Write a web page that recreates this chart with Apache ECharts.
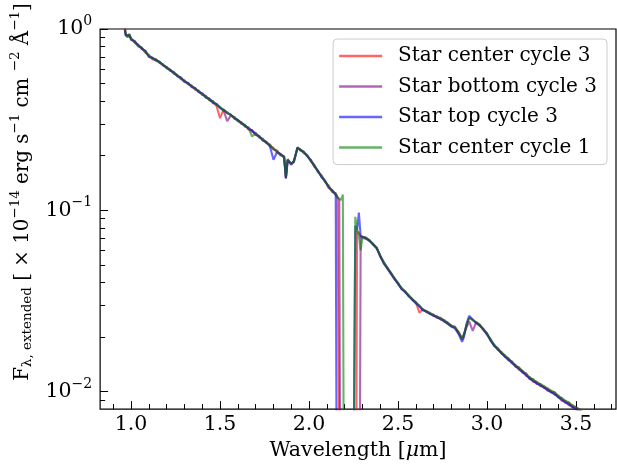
<!DOCTYPE html>
<html>
<head>
<meta charset="utf-8">
<script src="https://cdn.jsdelivr.net/npm/echarts@6/dist/echarts.min.js"></script>
<style>
  html, body { margin: 0; padding: 0; background: #ffffff; }
  #chart { width: 617px; height: 466px; }
</style>
</head>
<body>
<div id="chart"></div>
<script>
// Flux that falls below the plotted floor (detector gap between the two bands)
const NF = 1e-4;

// Wavelength grid in micron
const wavelength = [
  0.965, 0.97, 0.98, 0.99, 1.00, 1.02, 1.04, 1.06, 1.08, 1.10,
  1.12, 1.14, 1.16, 1.18, 1.20, 1.22, 1.24, 1.26, 1.28, 1.30,
  1.32, 1.34, 1.36, 1.38, 1.40, 1.42, 1.44, 1.46, 1.48, 1.50,
  1.52, 1.54, 1.56, 1.58, 1.60, 1.62, 1.64, 1.66, 1.68, 1.70,
  1.72, 1.74, 1.76, 1.78, 1.80, 1.82, 1.84, 1.86, 1.87, 1.88,
  1.90, 1.915, 1.935, 1.95, 1.97, 1.99, 2.01, 2.03, 2.05, 2.07,
  2.09, 2.11, 2.13, 2.15, 2.16, 2.17, 2.18, 2.19, 2.20, 2.21,
  2.22, 2.23, 2.24, 2.25, 2.26, 2.27, 2.28, 2.29, 2.30, 2.32,
  2.34, 2.36, 2.38, 2.40, 2.42, 2.44, 2.46, 2.48, 2.50, 2.52,
  2.54, 2.56, 2.58, 2.60, 2.62, 2.64, 2.66, 2.68, 2.70, 2.72,
  2.74, 2.76, 2.78, 2.80, 2.82, 2.84, 2.86, 2.87, 2.885, 2.90,
  2.92, 2.94, 2.96, 2.98, 3.00, 3.02, 3.04, 3.06, 3.08, 3.10,
  3.12, 3.14, 3.16, 3.18, 3.20, 3.22, 3.24, 3.26, 3.28, 3.30,
  3.32, 3.34, 3.36, 3.38, 3.40, 3.42, 3.44, 3.46, 3.48, 3.50,
  3.52, 3.54, 3.56, 3.58
];

// Flux, units of 1e-14 erg s^-1 cm^-2 A^-1
const centerCycle3 = [
  1.01, 0.94, 0.90, 0.94, 0.87, 0.86, 0.80, 0.79, 0.74, 0.72,
  0.68, 0.68, 0.65, 0.638, 0.605, 0.598, 0.566, 0.557, 0.528, 0.52,
  0.495, 0.488, 0.462, 0.457, 0.432, 0.428, 0.404, 0.40, 0.376, 0.322,
  0.36, 0.343, 0.338, 0.32, 0.316, 0.30, 0.296, 0.279, 0.277, 0.26,
  0.257, 0.242, 0.239, 0.225, 0.221, 0.208, 0.205, 0.195, 0.152, 0.192,
  0.178, 0.188, 0.219, 0.218, 0.207, 0.202, 0.186, 0.178, 0.162, 0.156,
  0.143, 0.137, 0.126, 0.124, 0.118, 0.117, NF, NF, NF, NF,
  NF, NF, NF, NF, NF, 0.077, 0.075, 0.0722, 0.0712, 0.0705,
  0.0675, 0.0655, 0.0615, 0.0565, 0.051, 0.0485, 0.0447, 0.0423, 0.0392, 0.0373,
  0.0352, 0.034, 0.032, 0.0312, 0.0272, 0.0285, 0.0274, 0.0272, 0.0261, 0.026,
  0.025, 0.0248, 0.0236, 0.0232, 0.0224, 0.0214, 0.0193, 0.0203, 0.0234, 0.0255,
  0.025, 0.0238, 0.0234, 0.0218, 0.021, 0.0191, 0.0182, 0.017, 0.0166, 0.0155,
  0.0153, 0.0143, 0.014, 0.0132, 0.013, 0.0122, 0.012, 0.0113, 0.0113, 0.0107,
  0.0107, 0.0101, 0.0101, 0.0096, 0.0095, 0.0089, 0.0089, 0.0084, 0.0084, 0.0079,
  0.008, 0.0074, 0.0075, 0.0071
];

const bottomCycle3 = [
  0.99, 0.92, 0.92, 0.92, 0.89, 0.84, 0.82, 0.775, 0.76, 0.70,
  0.695, 0.668, 0.66, 0.628, 0.618, 0.588, 0.578, 0.548, 0.54, 0.51,
  0.505, 0.478, 0.473, 0.448, 0.442, 0.418, 0.412, 0.39, 0.386, 0.366,
  0.355, 0.31, 0.333, 0.327, 0.311, 0.306, 0.29, 0.286, 0.271, 0.267,
  0.252, 0.248, 0.235, 0.23, 0.217, 0.213, 0.201, 0.199, 0.15, 0.188,
  0.182, 0.184, 0.223, 0.214, 0.211, 0.198, 0.19, 0.174, 0.166, 0.152,
  0.146, 0.133, 0.129, 0.121, 0.12, 0.114, NF, NF, NF, NF,
  NF, NF, NF, NF, NF, NF, NF, 0.0712, 0.072, 0.0695,
  0.0685, 0.0645, 0.0625, 0.0555, 0.0518, 0.0476, 0.0454, 0.0416, 0.0398, 0.0367,
  0.0358, 0.0335, 0.0325, 0.0307, 0.0299, 0.028, 0.0279, 0.0267, 0.0266, 0.0255,
  0.0255, 0.0243, 0.024, 0.0228, 0.0228, 0.021, 0.0197, 0.0207, 0.0226, 0.0244,
  0.0216, 0.0242, 0.023, 0.0222, 0.0206, 0.0195, 0.0178, 0.0174, 0.0162, 0.0159,
  0.0149, 0.0147, 0.0137, 0.0136, 0.0127, 0.0126, 0.0117, 0.0117, 0.011, 0.011,
  0.0105, 0.0104, 0.0099, 0.0099, 0.0093, 0.0092, 0.0087, 0.0087, 0.0082, 0.0082,
  0.0078, 0.0077, 0.0073, 0.0073
];

const topCycle3 = [
  1.00, 0.92, 0.91, 0.925, 0.875, 0.855, 0.815, 0.78, 0.755, 0.705,
  0.692, 0.672, 0.66, 0.63, 0.616, 0.59, 0.577, 0.55, 0.539, 0.513,
  0.503, 0.481, 0.472, 0.45, 0.44, 0.42, 0.412, 0.393, 0.386, 0.368,
  0.359, 0.344, 0.337, 0.322, 0.315, 0.301, 0.295, 0.281, 0.276, 0.262,
  0.256, 0.243, 0.238, 0.226, 0.19, 0.209, 0.204, 0.196, 0.15, 0.189,
  0.179, 0.187, 0.222, 0.215, 0.21, 0.199, 0.189, 0.175, 0.165, 0.153,
  0.145, 0.134, 0.129, 0.122, NF, NF, NF, NF, NF, NF,
  NF, NF, NF, NF, 0.082, 0.078, 0.097, 0.0718, 0.0714, 0.0702,
  0.0678, 0.0648, 0.0618, 0.0558, 0.0508, 0.0478, 0.0446, 0.0418, 0.0393, 0.0368,
  0.0354, 0.0336, 0.0321, 0.0308, 0.0294, 0.0282, 0.0275, 0.0268, 0.0262, 0.0256,
  0.025, 0.0244, 0.0236, 0.0228, 0.0223, 0.0208, 0.0188, 0.0199, 0.0236, 0.0262,
  0.0249, 0.0239, 0.0231, 0.0219, 0.0207, 0.0191, 0.0179, 0.0171, 0.0163, 0.0156,
  0.015, 0.0144, 0.0138, 0.0133, 0.0128, 0.0123, 0.0118, 0.0114, 0.0111, 0.0108,
  0.0105, 0.0102, 0.0099, 0.0097, 0.0093, 0.009, 0.0087, 0.0085, 0.0082, 0.008,
  0.0078, 0.0075, 0.0073, 0.0071
];

const centerCycle1 = [
  1.00, 0.94, 0.90, 0.935, 0.885, 0.845, 0.805, 0.79, 0.745, 0.715,
  0.687, 0.68, 0.652, 0.637, 0.609, 0.596, 0.57, 0.556, 0.532, 0.519,
  0.497, 0.487, 0.466, 0.456, 0.435, 0.426, 0.406, 0.399, 0.38, 0.373,
  0.354, 0.348, 0.333, 0.326, 0.311, 0.305, 0.291, 0.285, 0.255, 0.266,
  0.253, 0.247, 0.235, 0.23, 0.217, 0.213, 0.201, 0.198, 0.152, 0.191,
  0.181, 0.185, 0.22, 0.217, 0.208, 0.201, 0.187, 0.177, 0.163, 0.155,
  0.144, 0.136, 0.127, 0.124, 0.118, 0.116, 0.114, 0.122, NF, NF,
  NF, NF, NF, NF, 0.092, 0.078, 0.073, 0.06, 0.071, 0.0708,
  0.0682, 0.0652, 0.0622, 0.0562, 0.0516, 0.0482, 0.0452, 0.0422, 0.0397, 0.0372,
  0.0356, 0.034, 0.0323, 0.0312, 0.0297, 0.0284, 0.0277, 0.0271, 0.0264, 0.0259,
  0.0253, 0.0247, 0.0239, 0.0231, 0.0227, 0.0213, 0.0196, 0.0206, 0.0231, 0.0256,
  0.0247, 0.0241, 0.0233, 0.0221, 0.0209, 0.0194, 0.0181, 0.0173, 0.0165, 0.0158,
  0.0152, 0.0146, 0.014, 0.0135, 0.013, 0.0125, 0.012, 0.0116, 0.0113, 0.011,
  0.0107, 0.0104, 0.0101, 0.0099, 0.0095, 0.0092, 0.0089, 0.0087, 0.0084, 0.0082,
  0.008, 0.0077, 0.0075, 0.0073
];

const seriesNames = ['Star center cycle 3', 'Star bottom cycle 3', 'Star top cycle 3', 'Star center cycle 1'];
const seriesColors = ['rgba(255,0,0,0.6)', 'rgba(128,0,128,0.6)', 'rgba(0,0,255,0.6)', 'rgba(0,128,0,0.6)'];
const seriesValues = [centerCycle3, bottomCycle3, topCycle3, centerCycle1];

// Axis ticks
const xMajorTicks = [1.0, 1.5, 2.0, 2.5, 3.0, 3.5];
const xMinorTicks = [0.9, 1.0, 1.1, 1.2, 1.3, 1.4, 1.5, 1.6, 1.7, 1.8, 1.9, 2.0, 2.1, 2.2, 2.3, 2.4,
  2.5, 2.6, 2.7, 2.8, 2.9, 3.0, 3.1, 3.2, 3.3, 3.4, 3.5, 3.6, 3.7];
const yMajorTicks = [0.01, 0.1, 1];
const yMinorTicks = [0.009, 0.02, 0.03, 0.04, 0.05, 0.06, 0.07, 0.08, 0.09,
  0.2, 0.3, 0.4, 0.5, 0.6, 0.7, 0.8, 0.9];

const X_MIN = 0.826, X_MAX = 3.725;
const Y_MIN = 0.008, Y_MAX = 1;
const FONT = "'DejaVu Serif', serif";

const chart = echarts.init(document.getElementById('chart'), null, { renderer: 'canvas' });

const supStyle = { fontFamily: FONT, fontSize: 14, color: '#000', padding: [0, 0, 15, 0] };
const baseStyle = { fontFamily: FONT, fontSize: 20.5, color: '#000' };
// slightly smaller set for the long vertical axis title
const nameBase = { fontFamily: FONT, fontSize: 19.8, color: '#000' };
const nameSup = { fontFamily: FONT, fontSize: 13.5, color: '#000', padding: [0, 0, 15, 0] };
const nameSub = { fontFamily: FONT, fontSize: 13.5, color: '#000', padding: [10, 0, 0, 0] };

chart.setOption({
  animation: false,
  backgroundColor: '#ffffff',
  grid: {
    left: 99, right: 1, top: 29, bottom: 51,
    show: true, borderColor: '#000', borderWidth: 1.2, backgroundColor: 'transparent'
  },
  legend: {
    orient: 'vertical',
    right: 10, top: 39,
    padding: [6, 10, 6, 6],
    itemGap: 8.5,
    itemWidth: 43, itemHeight: 2.5,
    icon: 'rect',
    backgroundColor: 'rgba(255,255,255,0.8)',
    borderColor: '#cccccc', borderWidth: 1, borderRadius: 4,
    textStyle: { fontFamily: FONT, fontSize: 20, color: '#000', lineHeight: 22, padding: [0, 0, 0, 11] },
    data: seriesNames
  },
  xAxis: [
    {
      type: 'value', min: X_MIN, max: X_MAX,
      axisLine: { show: false },
      splitLine: { show: false },
      axisTick: { show: true, inside: true, length: 8, customValues: xMajorTicks, lineStyle: { color: '#000', width: 1 } },
      axisLabel: {
        customValues: xMajorTicks, margin: 5,
        fontFamily: FONT, fontSize: 20.5, color: '#000',
        formatter: v => v.toFixed(1)
      },
      name: '{m|Wavelength [}{i|μ}{m|m]}',
      nameLocation: 'middle', nameGap: 29,
      nameTextStyle: {
        rich: {
          m: baseStyle,
          i: { fontFamily: FONT, fontSize: 20.5, fontStyle: 'italic', color: '#000' }
        }
      }
    },
    {
      type: 'value', min: X_MIN, max: X_MAX, position: 'bottom',
      axisLine: { show: false },
      splitLine: { show: false },
      axisTick: { show: true, inside: true, length: 5, customValues: xMinorTicks, lineStyle: { color: '#000', width: 1 } },
      axisLabel: { show: false }
    }
  ],
  yAxis: [
    {
      type: 'log', logBase: 10, min: Y_MIN, max: Y_MAX,
      axisLine: { show: false },
      splitLine: { show: false },
      axisTick: { show: true, inside: true, length: 8, customValues: yMajorTicks, lineStyle: { color: '#000', width: 1 } },
      axisLabel: {
        customValues: yMajorTicks, margin: 8,
        formatter: v => '{b|10}{s|' + String(Math.round(Math.log10(v))).replace('-', '−') + '}',
        rich: { b: baseStyle, s: supStyle }
      },
      name: '{m|F}{sb|λ, extended}{m| [ × 10}{sp|−14}{m| erg s}{sp|−1}{m| cm }{sp|−2}{m| Å}{sp|−1}{m|]}',
      nameLocation: 'middle', nameRotate: 90, nameGap: 62,
      nameTextStyle: {
        padding: [0, 0, 0, 54],
        rich: { m: nameBase, sb: nameSub, sp: nameSup }
      }
    },
    {
      type: 'log', logBase: 10, min: Y_MIN, max: Y_MAX, position: 'left',
      axisLine: { show: false },
      splitLine: { show: false },
      axisTick: { show: true, inside: true, length: 5, customValues: yMinorTicks, lineStyle: { color: '#000', width: 1 } },
      axisLabel: { show: false }
    }
  ],
  series: seriesNames.map((name, k) => ({
    name: name,
    type: 'line',
    xAxisIndex: 0, yAxisIndex: 0,
    showSymbol: false, symbol: 'none',
    clip: true,
    lineStyle: { color: seriesColors[k], width: 2.1 },
    itemStyle: { color: seriesColors[k] },
    emphasis: { disabled: true },
    data: wavelength.map((w, i) => [w, seriesValues[k][i]])
  }))
});
</script>
</body>
</html>
